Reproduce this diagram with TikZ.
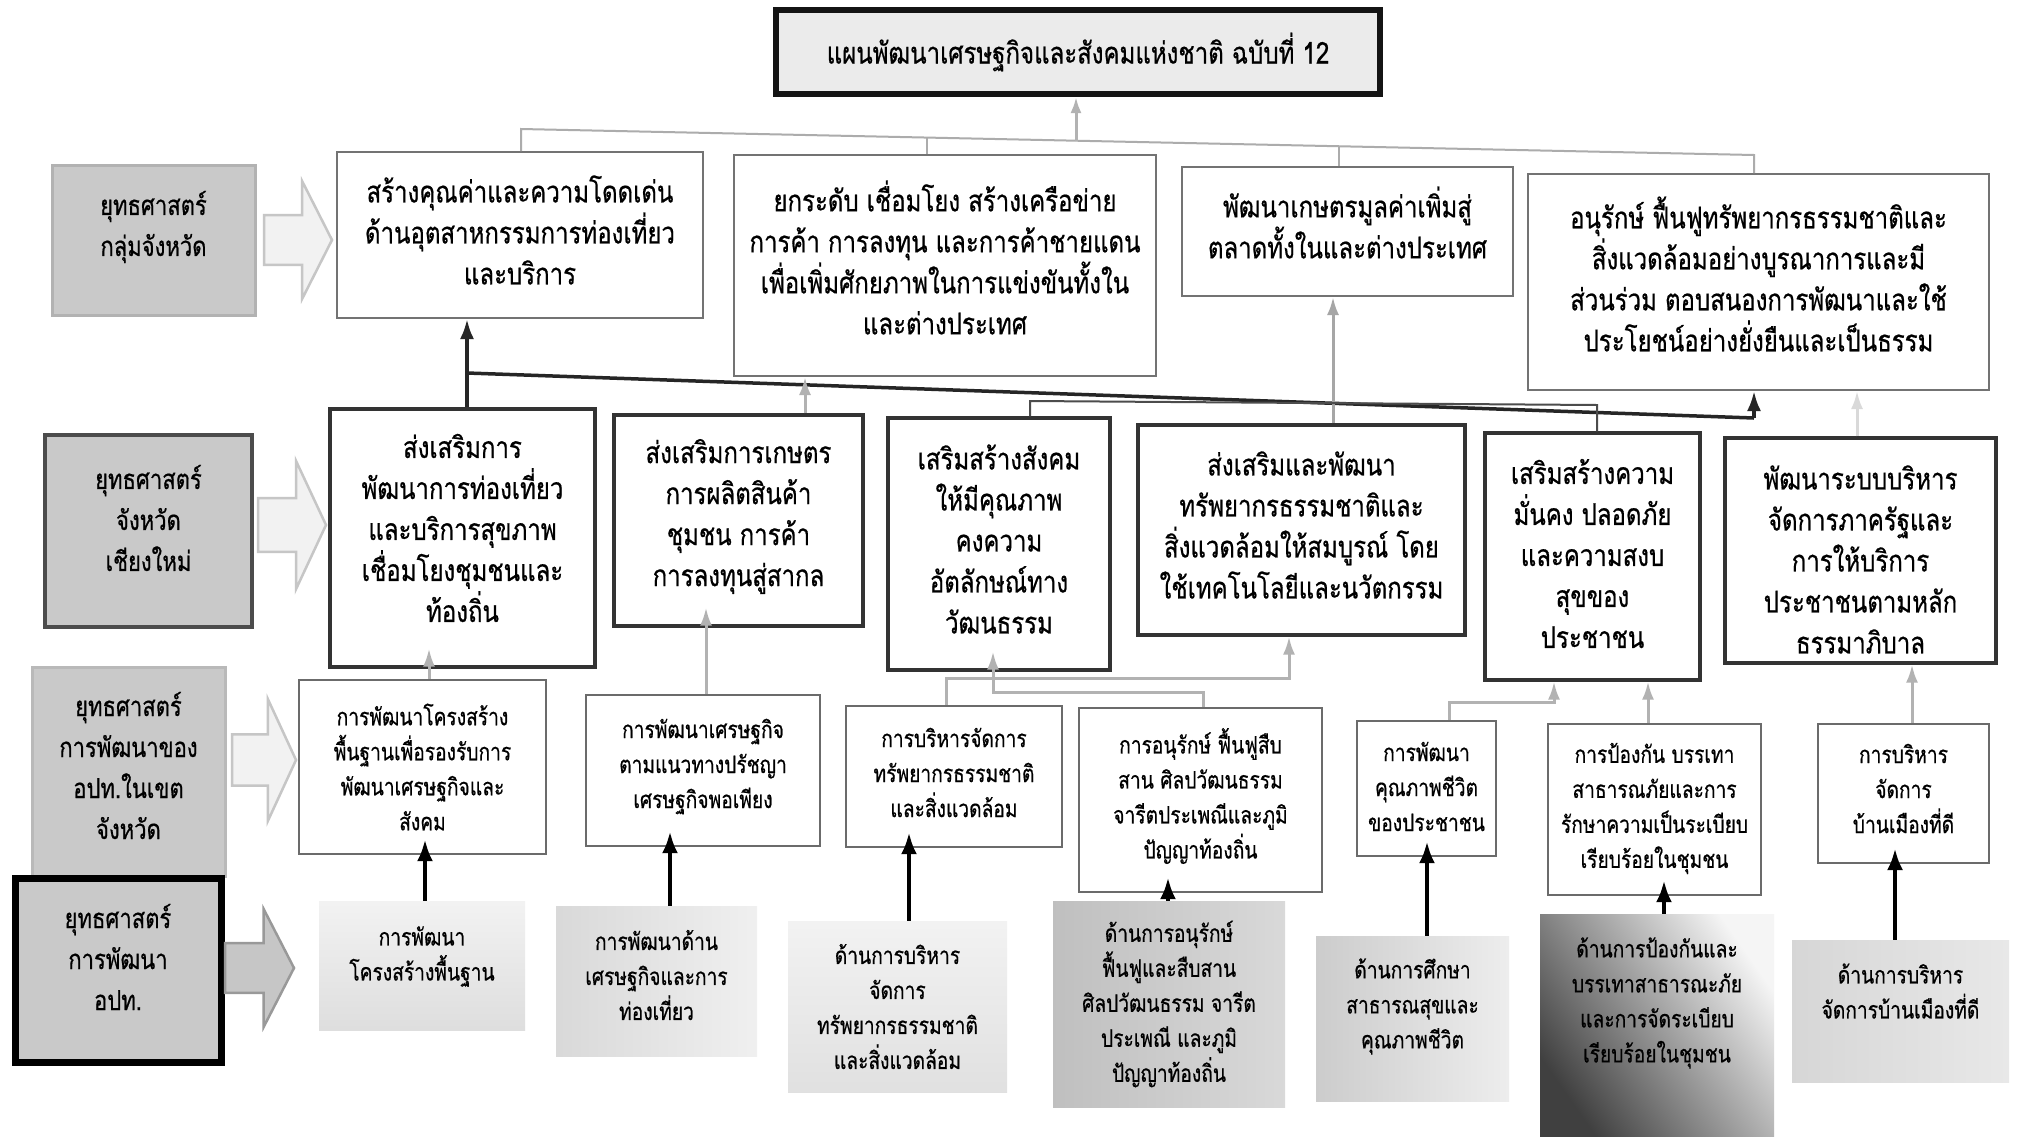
\documentclass[tikz,border=0pt]{standalone}
\usepackage{fontspec}
\newfontfamily\thai[Script=Thai,FakeStretch=0.8,FakeBold=0.6]{Loma}
\usetikzlibrary{arrows.meta,shadings}

% outlined block arrow pointing right: x-start, x-end, centre y, half height, style
\newcommand\sidearrow[5]{%
  \draw[#5] (#1,{#3-0.42*#4}) -- ({#1+0.56*(#2-#1)},{#3-0.42*#4}) --
    ({#1+0.56*(#2-#1)},{#3-#4}) -- (#2,#3) -- ({#1+0.56*(#2-#1)},{#3+#4}) --
    ({#1+0.56*(#2-#1)},{#3+0.42*#4}) -- (#1,{#3+0.42*#4}) -- cycle;}

% box with its text: text style, box style, name, centre x, centre y, width, height, text raise, text
\newcommand\tbox[9]{%
  \node[#2,minimum width=#6pt,minimum height=#7pt,
        label={[#1,yshift=#8pt]center:{#9}}] (#3) at (#4,#5) {};}

\tikzset{
  txtbig/.style={font=\thai\fontsize{30}{41}\selectfont,align=center,inner sep=0pt,text=black},
  txtmid/.style={font=\thai\fontsize{27.5}{41}\selectfont,align=center,inner sep=0pt,text=black},
  txtsmall/.style={font=\thai\fontsize{24}{35}\selectfont,align=center,inner sep=0pt,text=black},
  box/.style={inner sep=0pt},
  titlebox/.style={box,draw=black!92,line width=6pt,fill=gray!16},
  sidebox/.style={box,fill=gray!42},
  grpbox/.style={box,draw=black!55,line width=2pt,fill=white},
  provbox/.style={box,draw=black!80,line width=3.2pt,fill=white},
  locbox/.style={box,draw=black!58,line width=2.2pt,fill=white},
  admbox/.style={box},
  barrow/.style={fill=gray!10,draw=gray!45,line width=2.5pt,line join=miter},
  busline/.style={draw=gray!65,line width=2pt},
  busarrow/.style={draw=gray!60,line width=3pt,-{Latex[length=16pt,width=11pt]}},
  darkline/.style={draw=black!85,line width=3.5pt},
  darkarrow/.style={darkline,-{Latex[length=20pt,width=14pt]}},
  grayarrow/.style={draw=gray!60,line width=3pt,-{Latex[length=18pt,width=12pt]}},
  lightarrow/.style={draw=gray!30,line width=3pt,-{Latex[length=18pt,width=12pt]}},
  linkline/.style={draw=black!70,line width=2pt},
  blackarrow/.style={draw=black,line width=4.5pt,-{Latex[length=22pt,width=16pt]},shorten >=-16pt},
}

\begin{document}
\begin{tikzpicture}[x=1pt,y=-1pt]
\useasboundingbox[fill=white] (0,0) rectangle (2019,1144);

% national plan
\tbox{txtbig}{titlebox}{T}{1078}{52}{604}{84}{0}
  {แผนพัฒนาเศรษฐกิจและสังคมแห่งชาติ ฉบับที่ 12}

% level labels
\tbox{txtmid}{sidebox,draw=gray!60,line width=3pt}{L1}{153.5}{240}{203}{150}{13}
  {ยุทธศาสตร์\\กลุ่มจังหวัด}
\tbox{txtmid}{sidebox,draw=black!70,line width=4pt}{L2}{148.5}{531}{207}{192}{13}
  {ยุทธศาสตร์\\จังหวัด\\เชียงใหม่}
\tbox{txtmid}{sidebox,draw=gray!55,line width=3pt}{L3}{128.5}{771.5}{193}{209}{6}
  {ยุทธศาสตร์\\การพัฒนาของ\\อปท.ในเขต\\จังหวัด}
\tbox{txtmid}{sidebox,draw=black,line width=7pt}{L4}{118}{970}{206}{184}{13}
  {ยุทธศาสตร์\\การพัฒนา\\อปท.}

% arrows from the labels
\sidearrow{264}{332}{240}{59}{barrow}
\sidearrow{258}{326}{525}{64}{barrow}
\sidearrow{232}{296}{760}{61}{barrow}
\sidearrow{225}{294}{968}{59}{barrow,fill=gray!45,draw=gray!80}

% provincial group strategies
\tbox{txtbig}{grpbox}{B1}{520}{235}{366}{166}{5}
  {สร้างคุณค่าและความโดดเด่น\\ด้านอุตสาหกรรมการท่องเที่ยว\\และบริการ}
\tbox{txtbig}{grpbox}{B2}{945}{265.5}{422}{221}{8}
  {ยกระดับ เชื่อมโยง สร้างเครือข่าย\\การค้า การลงทุน และการค้าชายแดน\\เพื่อเพิ่มศักยภาพในการแข่งขันทั้งใน\\และต่างประเทศ}
\tbox{txtbig}{grpbox}{B3}{1347.5}{231.5}{331}{129}{9}
  {พัฒนาเกษตรมูลค่าเพิ่มสู่\\ตลาดทั้งในและต่างประเทศ}
\tbox{txtbig}{grpbox}{B4}{1758.5}{282}{461}{216}{8}
  {อนุรักษ์ ฟื้นฟูทรัพยากรธรรมชาติและ\\สิ่งแวดล้อมอย่างบูรณาการและมี\\ส่วนร่วม ตอบสนองการพัฒนาและใช้\\ประโยชน์อย่างยั่งยืนและเป็นธรรม}

% Chiang Mai strategies
\tbox{txtbig}{provbox}{C1}{462.5}{538}{265}{258}{10}
  {ส่งเสริมการ\\พัฒนาการท่องเที่ยว\\และบริการสุขภาพ\\เชื่อมโยงชุมชนและ\\ท้องถิ่น}
\tbox{txtbig}{provbox}{C2}{738.5}{520.5}{249}{211}{4}
  {ส่งเสริมการเกษตร\\การผลิตสินค้า\\ชุมชน การค้า\\การลงทุนสู่สากล}
\tbox{txtbig}{provbox}{C3}{999}{544}{222}{252}{5}
  {เสริมสร้างสังคม\\ให้มีคุณภาพ\\คงความ\\อัตลักษณ์ทาง\\วัฒนธรรม}
\tbox{txtbig}{provbox}{C4}{1301.5}{530}{327}{210}{5}
  {ส่งเสริมและพัฒนา\\ทรัพยากรธรรมชาติและ\\สิ่งแวดล้อมให้สมบูรณ์ โดย\\ใช้เทคโนโลยีและนวัตกรรม}
\tbox{txtbig}{provbox}{C5}{1592.5}{556.5}{215}{247}{3}
  {เสริมสร้างความ\\มั่นคง ปลอดภัย\\และความสงบ\\สุขของ\\ประชาชน}
\tbox{txtbig}{provbox}{C6}{1860.5}{550.5}{271}{225}{-9}
  {พัฒนาระบบบริหาร\\จัดการภาครัฐและ\\การให้บริการ\\ประชาชนตามหลัก\\ธรรมาภิบาล}

% local government strategies in the province
\tbox{txtsmall}{locbox}{D1}{422.5}{767}{247}{174}{0}
  {การพัฒนาโครงสร้าง\\พื้นฐานเพื่อรองรับการ\\พัฒนาเศรษฐกิจและ\\สังคม}
\tbox{txtsmall}{locbox}{D2}{703}{770.5}{234}{151}{4}
  {การพัฒนาเศรษฐกิจ\\ตามแนวทางปรัชญา\\เศรษฐกิจพอเพียง}
\tbox{txtsmall}{locbox}{D3}{954}{776.5}{216}{141}{4}
  {การบริหารจัดการ\\ทรัพยากรธรรมชาติ\\และสิ่งแวดล้อม}
\tbox{txtsmall}{locbox}{D4}{1200.5}{800}{243}{184}{4}
  {การอนุรักษ์ ฟื้นฟูสืบ\\สาน ศิลปวัฒนธรรม\\จารีตประเพณีและภูมิ\\ปัญญาท้องถิ่น}
\tbox{txtsmall}{locbox}{D5}{1426.5}{788.5}{139}{135}{2}
  {การพัฒนา\\คุณภาพชีวิต\\ของประชาชน}
\tbox{txtsmall}{locbox}{D6}{1654.5}{809.5}{213}{171}{1}
  {การป้องกัน บรรเทา\\สาธารณภัยและการ\\รักษาความเป็นระเบียบ\\เรียบร้อยในชุมชน}
\tbox{txtsmall}{locbox}{D7}{1903.5}{793.5}{171}{139}{5}
  {การบริหาร\\จัดการ\\บ้านเมืองที่ดี}

% local government development strategies
\tbox{txtsmall}{admbox,top color=gray!10,bottom color=gray!26}{E1}{422}{965.5}{206}{129}{9}
  {การพัฒนา\\โครงสร้างพื้นฐาน}
\tbox{txtsmall}{admbox,left color=gray!30,right color=gray!12}{E2}{656.5}{981}{201}{150}{6}
  {การพัฒนาด้าน\\เศรษฐกิจและการ\\ท่องเที่ยว}
\tbox{txtsmall}{admbox,top color=gray!10,bottom color=gray!24}{E3}{897.5}{1006.5}{219}{171}{0}
  {ด้านการบริหาร\\จัดการ\\ทรัพยากรธรรมชาติ\\และสิ่งแวดล้อม}
\tbox{txtsmall}{admbox,left color=gray!50,right color=gray!30}{E4}{1169}{1004}{232}{206}{0}
  {ด้านการอนุรักษ์\\ฟื้นฟูและสืบสาน\\ศิลปวัฒนธรรม จารีต\\ประเพณี และภูมิ\\ปัญญาท้องถิ่น}
\tbox{txtsmall}{admbox,left color=gray!40,right color=gray!14}{E5}{1412.5}{1018.5}{193}{165}{12}
  {ด้านการศึกษา\\สาธารณสุขและ\\คุณภาพชีวิต}
\tbox{txtsmall}{admbox,left color=black!75,middle color=gray!45,right color=gray!8,shading angle=125}{E6}{1657}{1025}{234}{222}{22}
  {ด้านการป้องกันและ\\บรรเทาสาธารณะภัย\\และการจัดระเบียบ\\เรียบร้อยในชุมชน}
\tbox{txtsmall}{admbox,left color=gray!32,right color=gray!18}{E7}{1900.5}{1011}{217}{142}{20}
  {ด้านการบริหาร\\จัดการบ้านเมืองที่ดี}

% group strategies feed the national plan
\coordinate (j1) at (521,129);
\coordinate (j2) at (927,137);
\coordinate (jt) at (1076,141);
\coordinate (j3) at (1339,146);
\coordinate (j4) at (1754,155);
\draw[busline] (B1.north -| j1) -- (j1) -- (j4) -- (B4.north -| j4);
\draw[busline] (j2) -- (B2.north -| j2);
\draw[busline] (j3) -- (B3.north -| j3);
\draw[busarrow] (jt) -- (T.south -| jt);

% provincial strategies to group strategies
\coordinate (k1) at (467,373);
\coordinate (k2) at (1754,418);
\draw[darkarrow] (C1.north -| k1) -- (B1.south -| k1);
\draw[darkline] (k1) -- (k2);
\draw[darkarrow] (k2) -- (B4.south -| k2);
\draw[grayarrow] (C2.north -| 805,0) -- (B2.south -| 805,0);
\draw[grayarrow,draw=gray!70] (C4.north -| 1333,0) -- (B3.south -| 1333,0);
\coordinate (m1) at (1030,401);
\coordinate (m2) at (1597,405);
\draw[linkline] (C3.north -| m1) -- (m1) -- (m2) -- (C5.north -| m2);
\draw[lightarrow] (C6.north -| 1857,0) -- (B4.south -| 1857,0);

% local strategies to provincial strategies
\draw[grayarrow,shorten >=-20pt] (D1.north -| 429,0) -- (C1.south -| 429,0);
\draw[grayarrow,shorten >=-20pt] (D2.north -| 706,0) -- (C2.south -| 706,0);
\coordinate (n1) at (946,678);
\coordinate (n2) at (1289,678);
\draw[grayarrow] (D3.north -| n1) -- (n1) -- (n2) -- (C4.south -| n2);
\coordinate (p1) at (1203,692);
\coordinate (p2) at (993,692);
\draw[grayarrow,shorten >=-20pt] (D4.north -| p1) -- (p1) -- (p2) -- (C3.south -| p2);
\coordinate (q1) at (1449,702);
\coordinate (q2) at (1554,702);
\draw[grayarrow] (D5.north -| q1) -- (q1) -- (q2) -- (C5.south -| q2);
\draw[grayarrow] (D6.north -| 1648,0) -- (C5.south -| 1648,0);
\draw[grayarrow] (D7.north -| 1912,0) -- (C6.south -| 1912,0);

% local development strategies to local strategies
\draw[blackarrow] (E1.north -| 425,0) -- (D1.south -| 425,0);
\draw[blackarrow] (E2.north -| 670,0) -- (D2.south -| 670,0);
\draw[blackarrow] (E3.north -| 909,0) -- (D3.south -| 909,0);
\draw[blackarrow] (E4.north -| 1168,0) -- (D4.south -| 1168,0);
\draw[blackarrow] (E5.north -| 1427,0) -- (D5.south -| 1427,0);
\draw[blackarrow] (E6.north -| 1664,0) -- (D6.south -| 1664,0);
\draw[blackarrow] (E7.north -| 1895,0) -- (D7.south -| 1895,0);
\end{tikzpicture}
\end{document}
